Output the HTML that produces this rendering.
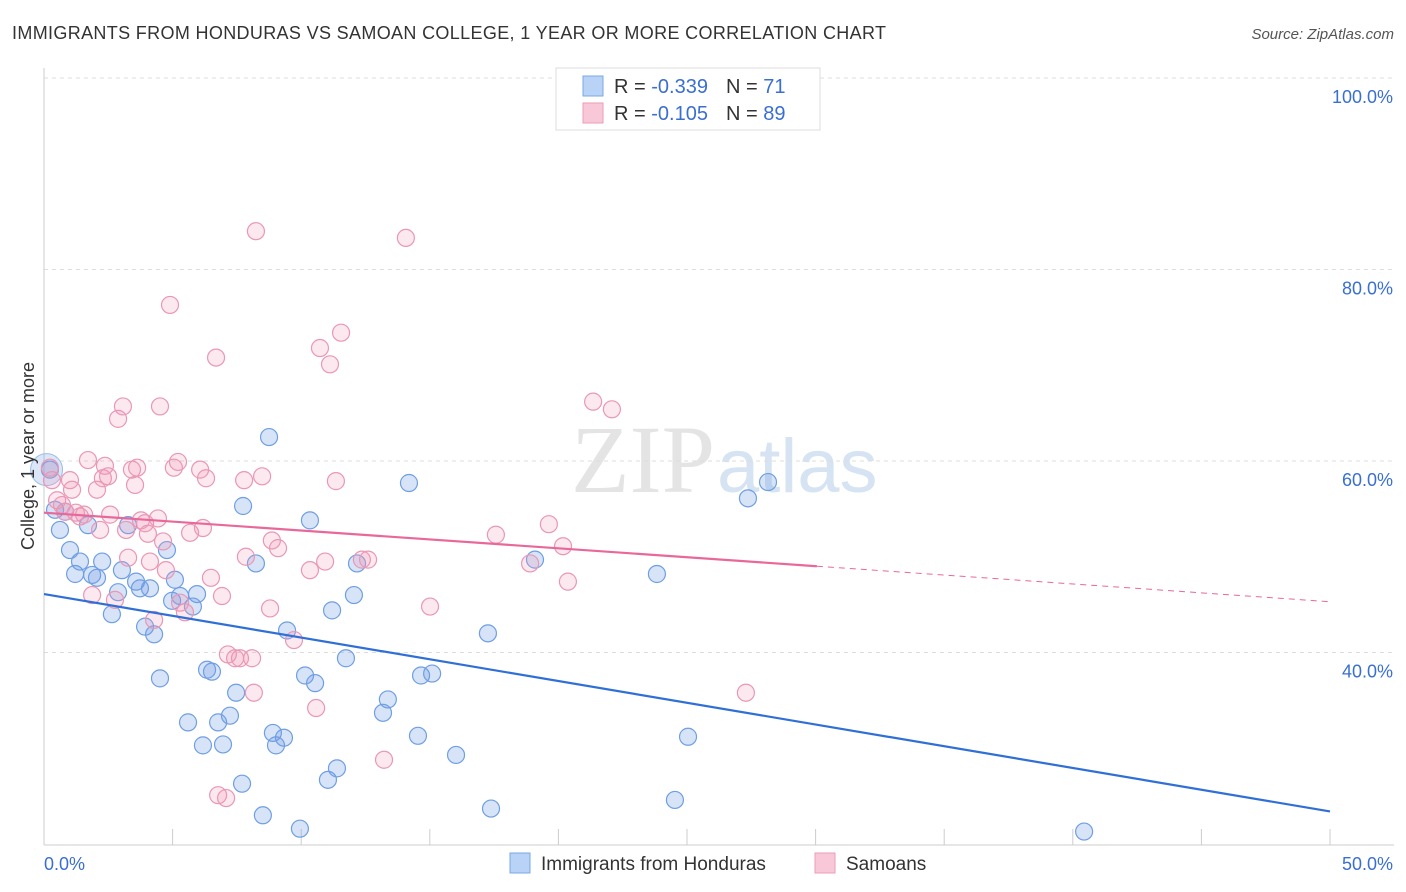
<!DOCTYPE html>
<html><head><meta charset="utf-8"><style>
body{margin:0;background:#fff;font-family:"Liberation Sans",sans-serif;}
svg{display:block}
</style></head><body>
<svg id="chart" width="1406" height="892">
<text x="12" y="39" font-size="18" fill="#333" textLength="874" lengthAdjust="spacing">IMMIGRANTS FROM HONDURAS VS SAMOAN COLLEGE, 1 YEAR OR MORE CORRELATION CHART</text>
<text x="1394" y="39" font-size="15" fill="#555" text-anchor="end" font-style="italic">Source: ZipAtlas.com</text>
<text x="715" y="492" font-size="96" fill="#e4e4e4" font-family="Liberation Serif,serif" text-anchor="end">ZIP</text>
<text x="717" y="492" font-size="76" fill="#d5e3f3">atlas</text>
<g id="grid"></g>
<g id="axes"></g>
<g id="marks"></g>
<text transform="translate(34,456) rotate(-90)" font-size="18" fill="#333" text-anchor="middle">College, 1 year or more</text>
<g>
<rect x="556" y="68" width="264" height="62" fill="#fff" stroke="#ddd"/>
<rect x="583" y="76" width="20" height="20" fill="#b8d3f5" stroke="#7aa7e6"/>
<rect x="583" y="103" width="20" height="20" fill="#f9c8d8" stroke="#eb9cb8"/>
<text x="614" y="93" font-size="20" fill="#333">R = <tspan fill="#3a6fd1">-0.339</tspan><tspan dx="18">N = </tspan><tspan fill="#3a6fd1">71</tspan></text>
<text x="614" y="120" font-size="20" fill="#333">R = <tspan fill="#3a6fd1">-0.105</tspan><tspan dx="18">N = </tspan><tspan fill="#3a6fd1">89</tspan></text>
</g>
<g>
<rect x="510" y="853" width="20" height="20" fill="#b8d3f5" stroke="#7aa7e6"/>
<text x="541" y="870" font-size="19" fill="#333">Immigrants from Honduras</text>
<rect x="815" y="853" width="20" height="20" fill="#f9c8d8" stroke="#eb9cb8"/>
<text x="846" y="870" font-size="19" fill="#333">Samoans</text>
</g>
</svg>
<script>
const blueX=[0.23,0.43,0.62,0.82,1.01,1.21,1.40,1.71,1.87,2.06,2.26,2.64,2.88,3.03,3.27,3.58,3.73,3.93,4.12,4.28,4.51,4.78,4.98,5.09,5.29,5.60,5.79,5.95,6.18,6.34,6.53,6.77,6.96,7.23,7.47,7.70,7.74,8.24,8.51,8.75,8.90,9.02,9.33,9.45,9.95,10.15,10.34,10.54,11.04,11.20,11.39,11.74,12.05,12.17,13.18,13.37,14.19,14.54,14.66,15.09,16.02,17.26,17.38,19.09,23.83,24.53,25.04,27.37,28.15,40.44];
const blueY=[59.1,54.9,52.8,54.7,50.7,48.2,49.5,53.3,48.1,47.8,49.5,44.0,46.3,48.6,53.3,47.4,46.7,42.7,46.7,41.9,37.3,50.7,45.4,47.6,45.9,32.7,44.8,46.1,30.3,38.2,38.0,32.7,30.4,33.4,35.8,26.3,55.3,49.3,23.0,62.5,31.6,30.3,31.1,42.3,21.6,37.6,53.8,36.8,26.7,44.4,27.9,39.4,46.0,49.3,33.7,35.1,57.7,31.3,37.6,37.8,29.3,42.0,23.7,49.7,48.2,24.6,31.2,56.1,57.8,21.3];
const pinkX=[0.23,0.31,0.51,0.70,0.82,1.01,1.09,1.24,1.40,1.56,1.71,1.87,2.06,2.18,2.29,2.37,2.49,2.57,2.76,2.88,3.07,3.19,3.27,3.42,3.54,3.62,3.77,3.93,4.04,4.12,4.28,4.43,4.51,4.63,4.74,4.90,5.05,5.21,5.29,5.48,5.68,6.07,6.18,6.30,6.49,6.69,6.92,7.15,7.43,7.62,7.78,7.85,8.09,8.24,8.16,8.48,8.79,8.86,9.10,9.72,10.34,10.58,10.73,10.93,11.12,11.35,11.55,12.36,12.60,13.22,14.07,15.01,17.57,18.90,19.63,20.18,20.37,21.35,22.08,6.77,7.08,27.29];
const pinkY=[59.3,58.0,55.9,55.4,54.7,58.0,57.0,54.6,54.2,54.4,60.1,46.0,57.0,52.8,58.2,59.5,58.4,54.4,45.5,64.4,65.7,52.8,49.9,59.1,57.5,59.3,53.8,53.5,52.4,49.5,43.4,54.0,65.7,51.6,48.6,76.3,59.3,59.9,45.2,44.2,52.5,59.1,53.0,58.2,47.8,70.8,45.9,39.8,39.4,39.4,58.0,50.0,39.4,84.0,35.8,58.4,44.6,51.7,50.9,41.3,48.6,34.2,71.8,49.5,70.1,57.9,73.4,49.7,49.7,28.8,83.3,44.8,52.3,49.3,53.4,51.1,47.4,66.2,65.4,25.1,24.8,35.8];
const blueTrend=[46.1,23.4];
const pinkTrend=[54.6,45.3];
const pinkSolidEnd=30.05;
const yTicks=[40,60,80,100];
const yTickLabels=["40.0%","60.0%","80.0%","100.0%"];
const xTicks=[0,5,10,15,20,25,30,35,40,45,50];

const NS="http://www.w3.org/2000/svg";
const xs=v=>44+v*25.72;
const ys=v=>78+(100-v)*9.575;
function mk(tag,attrs,parent){const e=document.createElementNS(NS,tag);for(const k in attrs)e.setAttribute(k,attrs[k]);parent.appendChild(e);return e;}
const grid=document.getElementById('grid'),axes=document.getElementById('axes'),marks=document.getElementById('marks');
yTicks.forEach((t,i)=>{
  const l=mk('line',{x1:44,x2:1394,y1:ys(t),y2:ys(t),stroke:'#ddd','stroke-dasharray':'4,4'},grid);
  
  
  const tx=mk('text',{x:1393,y:ys(t)+25,'font-size':18,fill:'#3a6fd1','text-anchor':'end'},grid);
  tx.textContent=yTickLabels[i];
  
  
});
const la=mk('line',{x1:44,x2:44,y1:68,y2:845,stroke:'#ccc'},axes);


const lb=mk('line',{x1:44,x2:1394,y1:845,y2:845,stroke:'#ccc'},axes);


xTicks.forEach(t=>{
  const l=mk('line',{x1:xs(t),x2:xs(t),y1:829,y2:845,stroke:'#ccc'},axes);
  
  
});
const x0=mk('text',{x:44,y:870,'font-size':18,fill:'#3a6fd1'},axes);x0.textContent='0.0%';


const x1=mk('text',{x:1393,y:870,'font-size':18,fill:'#3a6fd1','text-anchor':'end'},axes);x1.textContent='50.0%';



const big=mk('circle',{cx:xs(0.1),cy:ys(59.1),r:16,fill:'rgba(110,155,225,0.25)',stroke:'#9bbdec'},marks);


blueX.forEach((x,i)=>{
  const c=mk('circle',{cx:xs(x),cy:ys(blueY[i]),r:8.5,fill:'rgba(110,155,225,0.28)',stroke:'#6f9fe3','stroke-width':1.2},marks);
  
  
});
pinkX.forEach((x,i)=>{
  const c=mk('circle',{cx:xs(x),cy:ys(pinkY[i]),r:8.5,fill:'rgba(240,150,180,0.22)',stroke:'#ea97b5','stroke-width':1.2},marks);
  
  
});
const bt=mk('line',{x1:xs(0),y1:ys(blueTrend[0]),x2:xs(50),y2:ys(blueTrend[1]),stroke:'#2f6fd6','stroke-width':2.2},marks);


const pe=pinkTrend[0]+(pinkTrend[1]-pinkTrend[0])*pinkSolidEnd/50;
const pt=mk('line',{x1:xs(0),y1:ys(pinkTrend[0]),x2:xs(pinkSolidEnd),y2:ys(pe),stroke:'#e8689a','stroke-width':2.2},marks);


const pd=mk('line',{x1:xs(pinkSolidEnd),y1:ys(pe),x2:xs(50),y2:ys(pinkTrend[1]),stroke:'#e8689a','stroke-width':1,'stroke-dasharray':'6,5'},marks);


</script>
</body></html>
